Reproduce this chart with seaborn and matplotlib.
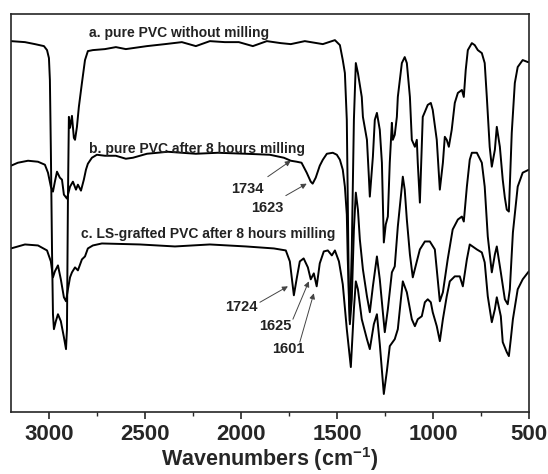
import numpy as np
import pandas as pd
import seaborn as sns
import matplotlib.pyplot as plt
from matplotlib.ticker import MultipleLocator

# FTIR spectra (wavenumber in cm-1, transmittance in arbitrary units, traces offset)
wn_a = [3200, 3127, 3075, 3028, 3012, 3002, 2997, 2992, 2986, 2981, 2976, 2966, 2955, 2940,
        2924, 2913, 2908, 2903, 2898, 2892, 2882, 2872, 2866, 2856, 2846, 2830, 2814, 2799,
        2773, 2710, 2653, 2601, 2491, 2397, 2309, 2236, 2163, 2085, 2012, 1939, 1866, 1793,
        1741, 1668, 1574, 1511, 1485, 1470, 1459, 1449, 1444, 1438, 1433, 1423, 1412, 1402,
        1391, 1371, 1365, 1344, 1334, 1329, 1313, 1303, 1292, 1277, 1266, 1256, 1246, 1235,
        1225, 1214, 1209, 1199, 1188, 1183, 1162, 1147, 1136, 1120, 1110, 1094, 1084, 1079,
        1068, 1053, 1042, 1027, 1011, 1001, 980, 964, 948, 938, 928, 917, 902, 886, 870, 849,
        839, 829, 818, 797, 782, 766, 745, 730, 719, 704, 693, 677, 667, 651, 636, 625, 615,
        604, 589, 573, 558, 532, 505, 500]
t_a = [372, 371, 369, 367, 363, 355, 333, 263, 163, 98, 83, 91, 98, 91,
       75, 63, 83, 213, 296, 285, 297, 275, 273, 286, 306, 330, 353, 362,
       363, 364, 366, 364, 367, 369, 371, 367, 372, 371, 371, 367, 372, 370,
       369, 372, 369, 373, 368, 353, 340, 293, 213, 113, 91, 163, 293, 350,
       340, 316, 296, 273, 236, 216, 256, 293, 300, 283, 250, 170, 188, 196,
       250, 290, 273, 278, 296, 316, 350, 356, 350, 316, 273, 266, 273, 250,
       210, 296, 301, 308, 310, 303, 273, 223, 250, 276, 273, 266, 283, 310, 320, 323,
       316, 343, 363, 370, 368, 363, 360, 350, 316, 266, 246, 263, 286, 266, 233, 215, 203,
       201, 280, 330, 346, 353, 351, 351]

wn_b = [3200, 3164, 3111, 3059, 3023, 3007, 2992, 2981, 2971, 2960, 2945, 2934, 2924, 2908,
        2892, 2877, 2861, 2851, 2835, 2820, 2809, 2799, 2778, 2752, 2710, 2653, 2601, 2564,
        2491, 2382, 2236, 2121, 1975, 1850, 1777, 1741, 1710, 1685, 1658, 1637, 1627, 1611,
        1590, 1574, 1553, 1522, 1501, 1485, 1470, 1459, 1449, 1444, 1433, 1423, 1412, 1402,
        1391, 1381, 1365, 1344, 1329, 1313, 1292, 1277, 1261, 1251, 1235, 1214, 1199, 1183,
        1162, 1157, 1147, 1136, 1120, 1105, 1084, 1068, 1042, 1016, 990, 980, 964, 948, 923,
        897, 870, 849, 839, 823, 808, 797, 771, 745, 730, 714, 693, 677, 667, 646, 625, 610,
        599, 583, 558, 532, 500]
t_b = [247, 250, 252, 251, 248, 240, 226, 221, 231, 241, 235, 233, 218, 214,
       226, 231, 223, 228, 222, 233, 243, 249, 255, 258, 257, 257, 254, 255,
       259, 261, 259, 260, 259, 258, 255, 252, 251, 250, 240, 231, 229, 235,
       247, 253, 259, 260, 258, 253, 243, 226, 198, 153, 88, 113, 183, 220,
       203, 173, 143, 116, 100, 126, 156, 133, 100, 80, 103, 140, 146, 186,
       226, 236, 223, 193, 158, 135, 151, 163, 171, 171, 163, 143, 111, 120, 153,
       183, 193, 196, 191, 226, 253, 260, 260, 250, 226, 176, 140, 158, 166, 140, 113, 108,
       123, 180, 226, 240, 243]

wn_c = [3200, 3127, 3059, 3012, 2992, 2981, 2971, 2955, 2940, 2924, 2913, 2903, 2892, 2882,
        2866, 2851, 2830, 2814, 2799, 2773, 2726, 2528, 2345, 2163, 1975, 1829, 1767, 1746,
        1725, 1710, 1694, 1674, 1652, 1637, 1621, 1606, 1590, 1569, 1548, 1527, 1511, 1490,
        1470, 1449, 1428, 1412, 1402, 1391, 1371, 1344, 1329, 1308, 1292, 1277, 1256, 1240,
        1225, 1199, 1183, 1167, 1157, 1136, 1110, 1094, 1079, 1058, 1042, 1027, 1011, 1001,
        980, 964, 948, 928, 912, 886, 860, 844, 823, 808, 771, 745, 730, 714, 693, 677, 667,
        646, 636, 615, 604, 594, 583, 558, 532, 500]
t_c = [164, 168, 167, 162, 151, 135, 141, 147, 133, 115, 111, 123, 135, 140,
       145, 142, 153, 156, 164, 167, 169, 168, 166, 168, 166, 164, 162, 151,
       117, 134, 151, 154, 145, 133, 139, 126, 149, 161, 162, 157, 162, 151,
       128, 83, 45, 103, 131, 123, 93, 73, 63, 88, 98, 68, 18, 41,
       66, 73, 83, 113, 131, 120, 93, 86, 93, 96, 110, 113, 110, 100,
       86, 71, 93, 116, 131, 136, 136, 126, 153, 168, 163, 160, 150, 116, 90, 103, 115,
       96, 70, 60, 56, 73, 93, 123, 133, 141]

trace_labels = ["a. pure PVC without milling",
                "b. pure PVC after 8 hours milling",
                "c. LS-grafted PVC after 8 hours milling"]

# peak annotations: text, label position, arrow head position
peak_text = ["1734", "1623", "1724", "1625", "1601"]
peak_xy = [(1741, 252), (1658, 229), (1756, 126), (1647, 131), (1621, 119)]
peak_tail = [(1861, 236), (1767, 217), (1902, 110), (1730, 93), (1694, 70)]
peak_label = [(1965, 224), (1866, 205), (2001, 105), (1824, 86), (1756, 63)]

df = pd.concat([
    pd.DataFrame({"wn": wn_a, "T": t_a, "trace": "a"}),
    pd.DataFrame({"wn": wn_b, "T": t_b, "trace": "b"}),
    pd.DataFrame({"wn": wn_c, "T": t_c, "trace": "c"}),
])

sns.set_style("ticks")
plt.rcParams["font.family"] = ["Liberation Sans", "DejaVu Sans"]
plt.rcParams["mathtext.fontset"] = "custom"
plt.rcParams["mathtext.bf"] = "Liberation Sans:bold"
plt.rcParams["mathtext.rm"] = "Liberation Sans"

fig = plt.figure(figsize=(5.48, 4.74), dpi=100)
ax = fig.add_axes([0.020, 0.131, 0.945, 0.839])

for name, grp in df.groupby("trace"):
    sns.lineplot(data=grp, x="wn", y="T", sort=False, estimator=None,
                 color="black", lw=1.4, ax=ax)

ax.set_xlim(3200, 500)
ax.set_ylim(0, 399)
ax.set_xticks(np.arange(3000, 499, -500))
ax.xaxis.set_minor_locator(MultipleLocator(250))
ax.set_yticks([])
ax.tick_params(axis="x", which="major", direction="out", length=5, width=1.2,
               labelsize=16, pad=4)
ax.tick_params(axis="x", which="minor", direction="out", length=3, width=1.0)
for lbl in ax.get_xticklabels():
    lbl.set_fontweight("bold")
for sp in ax.spines.values():
    sp.set_linewidth(1.2)
ax.set_xlabel("Wavenumbers (cm$\\mathbf{^{-1}}$)", fontsize=15.5, fontweight="bold", labelpad=0)
ax.set_ylabel("")

label_pos = [(2795, 380), (2795, 264), (2835, 178)]
for txt, (x, y) in zip(trace_labels, label_pos):
    ax.text(x, y, txt, fontsize=10, fontweight="bold", color="#222222",
            ha="left", va="center")

for txt, head, tail, pos in zip(peak_text, peak_xy, peak_tail, peak_label):
    ax.annotate("", xy=head, xytext=tail,
                arrowprops=dict(arrowstyle="-|>", color="#444444", lw=0.7,
                                mutation_scale=8, shrinkA=0, shrinkB=0))
    ax.text(pos[0], pos[1], txt, fontsize=10.5, fontweight="bold", color="#222222",
            ha="center", va="center")

fig.savefig("out.png", dpi=100)
